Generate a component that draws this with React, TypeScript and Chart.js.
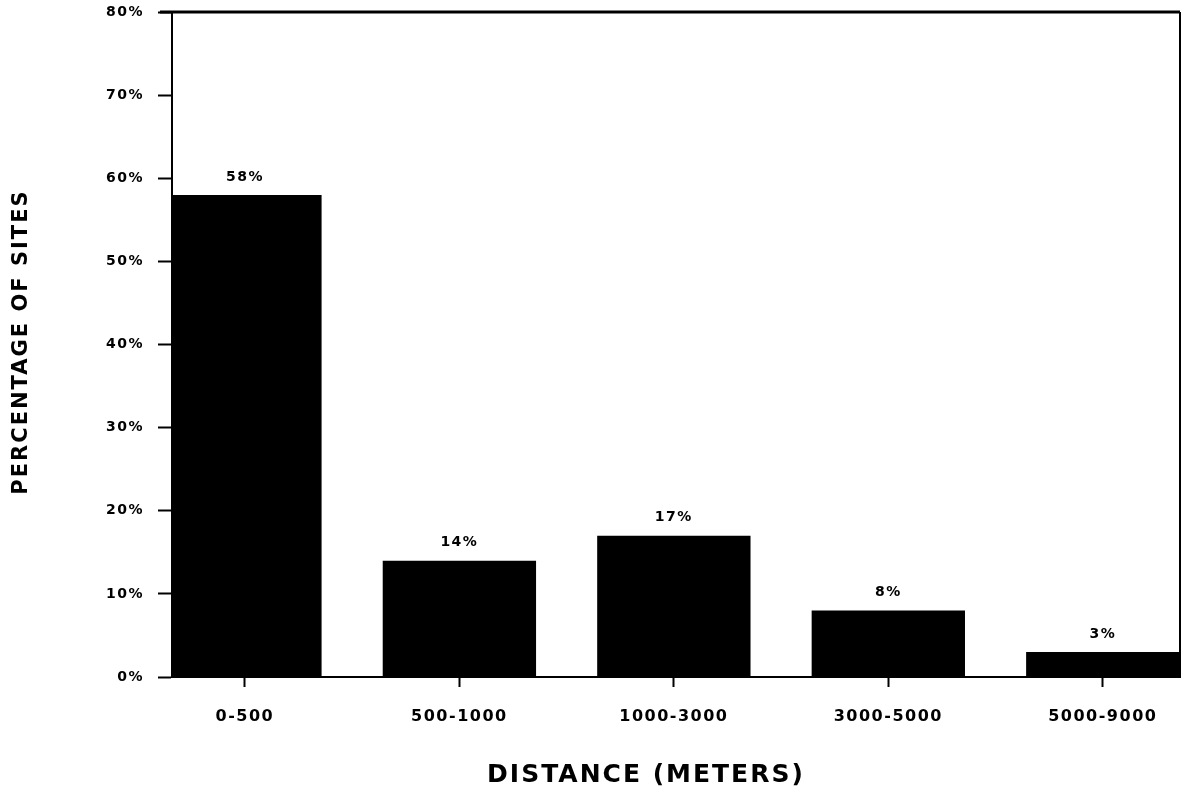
import React, { useEffect, useRef } from "react";
import { Chart, registerables } from "chart.js";

Chart.register(...registerables);

// Distance bands and the share of sites that fall in each
const CATEGORIES = ["0-500", "500-1000", "1000-3000", "3000-5000", "5000-9000"];
const SITE_SHARE = [58, 14, 17, 8, 3];
const Y_MIN = 0;
const Y_MAX = 80;
const Y_STEP = 10;

const X_TITLE = "DISTANCE (METERS)";
const Y_TITLE = "PERCENTAGE OF SITES";

const FONT = "'DejaVu Sans', 'Liberation Sans', sans-serif";
const INK = "#000000";

// Value labels over the bars, the frame on top/right, and both axis titles
const decorations = {
  id: "decorations",
  beforeDraw(chart: any) {
    (chart.ctx as any).letterSpacing = "1.5px";
  },
  afterDatasetsDraw(chart: any) {
    const ctx = chart.ctx;
    const meta = chart.getDatasetMeta(0);
    ctx.save();
    (ctx as any).letterSpacing = "1.5px";
    ctx.fillStyle = INK;
    ctx.font = `bold 14px ${FONT}`;
    ctx.textAlign = "center";
    ctx.textBaseline = "middle";
    meta.data.forEach((bar: any, i: number) => {
      ctx.fillText(`${SITE_SHARE[i]}%`, bar.x, bar.y - 18);
    });
    ctx.restore();
  },
  afterDraw(chart: any) {
    const ctx = chart.ctx;
    const { top, right, bottom, left } = chart.chartArea;
    ctx.save();
    ctx.strokeStyle = INK;
    ctx.lineWidth = 3;
    ctx.beginPath();
    ctx.moveTo(left - 12, top);
    ctx.lineTo(right, top);
    ctx.stroke();
    ctx.lineWidth = 2;
    ctx.beginPath();
    ctx.moveTo(right, top);
    ctx.lineTo(right, bottom);
    ctx.stroke();

    ctx.fillStyle = INK;
    (ctx as any).letterSpacing = "2px";
    ctx.textAlign = "center";
    ctx.textBaseline = "middle";
    ctx.font = `bold 25px ${FONT}`;
    ctx.fillText(X_TITLE, 646, 775);

    ctx.translate(22, 342);
    ctx.rotate(-Math.PI / 2);
    ctx.font = `bold 21px ${FONT}`;
    ctx.fillText(Y_TITLE, 0, 0);
    ctx.restore();
  },
};

export default function App() {
  const canvasRef = useRef<HTMLCanvasElement | null>(null);

  useEffect(() => {
    document.body.style.margin = "0";
    const canvas = canvasRef.current;
    if (!canvas) return;

    const chart = new Chart(canvas, {
      type: "bar",
      data: {
        datasets: [
          {
            data: SITE_SHARE.map((v, i) => ({ x: i, y: v })),
            backgroundColor: INK,
            borderWidth: 0,
            barPercentage: 0.715,
            categoryPercentage: 1,
          },
        ],
      },
      options: {
        animation: false,
        responsive: false,
        maintainAspectRatio: false,
        layout: { padding: { top: 12, right: 4, left: 0, bottom: 0 } },
        plugins: {
          legend: { display: false },
          tooltip: { enabled: false },
        },
        scales: {
          x: {
            type: "linear",
            offset: false,
            min: -0.34,
            max: 4.36,
            afterBuildTicks: (scale: any) => {
              scale.ticks = CATEGORIES.map((_, i) => ({ value: i }));
            },
            afterFit: (scale: any) => {
              scale.height = 116;
              scale.paddingLeft = 0;
              scale.paddingRight = 0;
            },
            grid: {
              offset: false,
              drawOnChartArea: false,
              drawTicks: true,
              tickLength: 10,
              tickColor: INK,
              tickWidth: 2,
            },
            border: { display: true, color: INK, width: 2 },
            ticks: {
              autoSkip: false,
              maxRotation: 0,
              padding: 20,
              color: INK,
              font: { family: FONT, size: 16, weight: "bold" },
              callback: (v: any) => CATEGORIES[Number(v)] ?? "",
            },
          },
          y: {
            min: Y_MIN,
            max: Y_MAX,
            afterFit: (scale: any) => {
              scale.width = 172;
              scale.paddingTop = 0;
              scale.paddingBottom = 0;
            },
            grid: {
              drawOnChartArea: false,
              drawTicks: true,
              tickLength: 14,
              tickColor: INK,
              tickWidth: 2,
            },
            border: { display: true, color: INK, width: 2 },
            ticks: {
              stepSize: Y_STEP,
              padding: 14,
              color: INK,
              font: { family: FONT, size: 14, weight: "bold" },
              callback: (v: any) => `${v}%`,
            },
          },
        },
      },
      plugins: [decorations],
    } as any);

    return () => chart.destroy();
  }, []);

  return (
    <div style={{ width: 1184, height: 793, background: "#ffffff" }}>
      <canvas ref={canvasRef} width={1184} height={793} />
    </div>
  );
}
